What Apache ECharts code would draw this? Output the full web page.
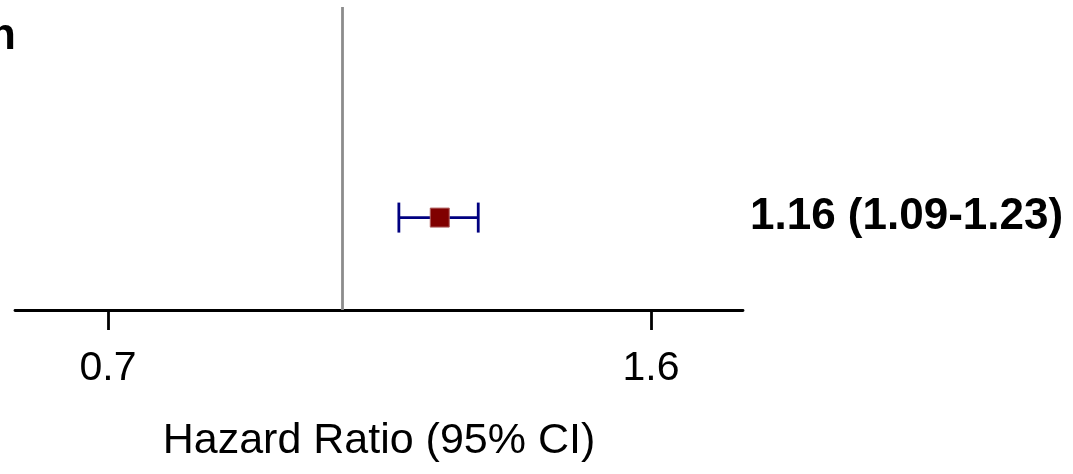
<!DOCTYPE html>
<html>
<head>
<meta charset="utf-8">
<script src="https://cdn.jsdelivr.net/npm/echarts@6/dist/echarts.min.js"></script>
<style>
html,body{margin:0;padding:0;background:#fff;}
#main{width:1073px;height:474px;}
</style>
</head>
<body>
<div id="main"></div>
<script>
const rowLabels = ['n'];
const hr = [1.16];
const lower = [1.09];
const upper = [1.23];
const tickValues = [0.7, 1.6];
const refValue = 1;
const axisTitle = 'Hazard Ratio (95% CI)';

const FONT = '"Liberation Sans", Arial, sans-serif';
const rowY = 0.305;

const chart = echarts.init(document.getElementById('main'));
const ciData = hr.map((v, i) => [lower[i], upper[i], rowY]);
const ptData = hr.map(v => [v, rowY]);
const fmt = (v) => v.toFixed(2);

chart.setOption({
  animation: false,
  grid: { left: 15, right: 330, top: 7, bottom: 164, containLabel: false },
  xAxis: {
    type: 'log',
    min: 0.6076, max: 1.8406,
    logBase: Math.E,
    axisLine: { show: true, lineStyle: { color: '#000', width: 2.8 } },
    axisTick: { show: true, length: 20, customValues: tickValues, lineStyle: { color: '#000', width: 2.8 } },
    axisLabel: { customValues: tickValues, fontSize: 41, color: '#000', fontFamily: FONT, margin: 38,
      formatter: (v) => String(Math.round(v * 10) / 10) },
    splitLine: { show: false },
    name: axisTitle,
    nameLocation: 'middle',
    nameGap: 110,
    nameTextStyle: { fontSize: 43, color: '#000', fontFamily: FONT }
  },
  yAxis: { type: 'value', min: 0, max: 1, show: false },
  series: [
    {
      type: 'custom',
      data: ciData,
      renderItem: function (params, api) {
        const lo = api.coord([api.value(0), api.value(2)]);
        const hi = api.coord([api.value(1), api.value(2)]);
        const cap = 15;
        const st = { stroke: '#000080', lineWidth: 2.8 };
        return {
          type: 'group',
          children: [
            { type: 'line', shape: { x1: lo[0], y1: lo[1], x2: hi[0], y2: hi[1] }, style: st },
            { type: 'line', shape: { x1: lo[0], y1: lo[1] - cap, x2: lo[0], y2: lo[1] + cap }, style: st },
            { type: 'line', shape: { x1: hi[0], y1: hi[1] - cap, x2: hi[0], y2: hi[1] + cap }, style: st }
          ]
        };
      },
      z: 2,
      markLine: {
        silent: true, symbol: 'none', label: { show: false },
        lineStyle: { color: '#8c8c8c', width: 2.8, type: 'solid' },
        data: [{ xAxis: refValue }]
      }
    },
    {
      type: 'scatter',
      data: ptData,
      symbol: 'rect',
      symbolSize: 19,
      itemStyle: { color: '#800000', borderColor: '#b06060', borderWidth: 1, opacity: 1 },
      z: 3
    }
  ],
  graphic: [
    { type: 'text', left: 750, top: 195,
      style: { text: hr.map((v, i) => fmt(v) + ' (' + fmt(lower[i]) + '-' + fmt(upper[i]) + ')').join('\n'),
        fontSize: 44, fontWeight: 'bold', fill: '#000', fontFamily: FONT } },
    { type: 'text', left: -11, top: 15,
      style: { text: rowLabels[0], fontSize: 44, fontWeight: 'bold', fill: '#000', fontFamily: FONT } }
  ]
});
</script>
</body>
</html>
